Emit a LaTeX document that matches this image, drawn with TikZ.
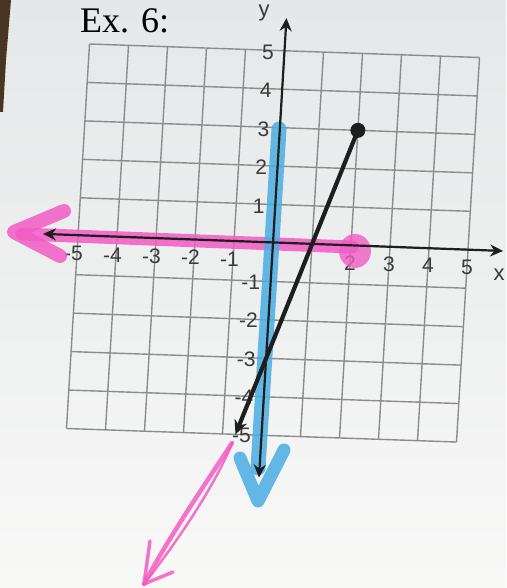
\documentclass[tikz,border=0pt]{standalone}
\usepackage{fontspec}
\setmainfont{Liberation Serif}
\newfontfamily\labfont{Liberation Sans}
\usetikzlibrary{arrows.meta}
\definecolor{paperTop}{HTML}{E4E8E8}
\definecolor{paperBot}{HTML}{F8F8F7}
\definecolor{wood}{HTML}{4A3522}
\definecolor{gridcol}{HTML}{8C8C8C}
\definecolor{labcol}{HTML}{3A3A3A}
\definecolor{hlpink}{HTML}{F35CC4}
\definecolor{hlblue}{HTML}{4AADE3}
\definecolor{ink}{HTML}{1E1E1E}
\tikzset{
  gridsys/.style={shift={(273,243)}, x={(39pt,-1.35pt)}, y={(2.3pt,38.45pt)}},
  gridline/.style={draw=gridcol, line width=1.4pt},
  ticklab/.style={font=\labfont\fontsize{21}{21}\selectfont, text=labcol, inner sep=0pt},
  axlab/.style={font=\labfont\fontsize{22}{22}\selectfont, text=labcol, inner sep=0pt},
  axisline/.style={draw=ink, line width=2.2pt, {Stealth[length=13pt,width=12pt]}-{Stealth[length=13pt,width=12pt]}},
  graphline/.style={draw=ink, line width=4.2pt, -{Stealth[length=14pt,width=13pt]}},
  enddot/.style={circle, fill=ink, inner sep=0pt, minimum size=15pt},
  pinkmark/.style={draw=hlpink, opacity=0.85, line cap=round, line join=round},
  bluemark/.style={draw=hlblue, opacity=0.85, line cap=round, line join=round},
}
\begin{document}
\begin{tikzpicture}[x=1pt,y=-1pt]
\useasboundingbox (0,0) rectangle (506,588);
% paper and table edge
\shade[top color=paperTop, bottom color=paperBot] (0,0) rectangle (506,588);
\fill[wood] (0,0) -- (11,0) -- (6,60) -- (3,112) -- (0,112) -- cycle;
% title
\node[anchor=base west, font=\fontsize{36}{36}\selectfont, inner sep=0pt] (title) at (80,33) {Ex. 6:};
% grid, tick labels, coordinates
\begin{scope}[gridsys]
  \foreach \i in {-5,...,5} {
    \draw[gridline] (\i,-5) -- (\i,5);
    \draw[gridline] (-5,\i) -- (5,\i);
  }
  \foreach \k in {-5,-4,-3,-2,-1} {
    \node[ticklab] (xt\k) at (\k,-0.45) {\llap{-}\the\numexpr-\k\relax};
    \node[ticklab] (yt\k) at (-0.42,\k-0.03) {\llap{-}\the\numexpr-\k\relax};
  }
  \foreach \k in {2,3,4,5} {
    \node[ticklab] (xt\k) at (\k,-0.45) {\k};
  }
  \foreach \k in {1,2,3,4,5} {
    \node[ticklab] (yt\k) at (-0.42,\k-0.05) {\k};
  }
  \coordinate (xl) at (-5.9,0.03);
  \coordinate (xr) at (5.9,0);
  \coordinate (yb) at (0,-6.1);
  \coordinate (ytop) at (0,5.85);
  \coordinate (P) at (2,3);
  \coordinate (Q) at (-0.667,-5);
\end{scope}
% axis names
\node[axlab] (xname) at (499,275) {x};
\node[axlab] (yname) at (264,13) {y};
% pink highlight of the x-axis
\coordinate (pl) at (22,234);
\coordinate (pr) at (352,247);
\draw[pinkmark, line width=13pt] (pl) -- (pr);
\fill[hlpink, opacity=0.8] (355,251) ellipse (16pt and 17pt);
\coordinate (pa1) at (64,211);
\coordinate (pt) at (14,232);
\coordinate (pa2) at (60,256);
\draw[pinkmark, line width=14pt] (pa1) -- (pt) -- (pa2);
% pink arrow at the bottom
\coordinate (pb0) at (232,443);
\coordinate (pb1) at (144,584);
\coordinate (pbl) at (150,541);
\coordinate (pbr) at (173,572);
\draw[pinkmark, line width=4.5pt] (pb0) .. controls (208,480) and (170,535) .. (pb1);
\draw[pinkmark, line width=2.5pt] (pb0) .. controls (215,486) and (177,542) .. (pb1);
\draw[pinkmark, line width=3.5pt] (pbl) -- (pb1) -- (pbr);
% blue highlight of the y-axis
\coordinate (bt) at (279,129);
\coordinate (bb) at (258,468);
\draw[bluemark, line width=15pt] (bt) -- (bb);
\coordinate (ba1) at (240,458);
\coordinate (btip) at (258,501);
\coordinate (ba2) at (284,450);
\draw[bluemark, line width=13pt] (ba1) -- (btip) -- (ba2);
% axes and graph
\draw[axisline] (xl) -- (xr);
\draw[axisline] (yb) -- (ytop);
\draw[graphline] (P) -- (Q);
\node[enddot] (dotP) at (P) {};
\end{tikzpicture}
\end{document}
